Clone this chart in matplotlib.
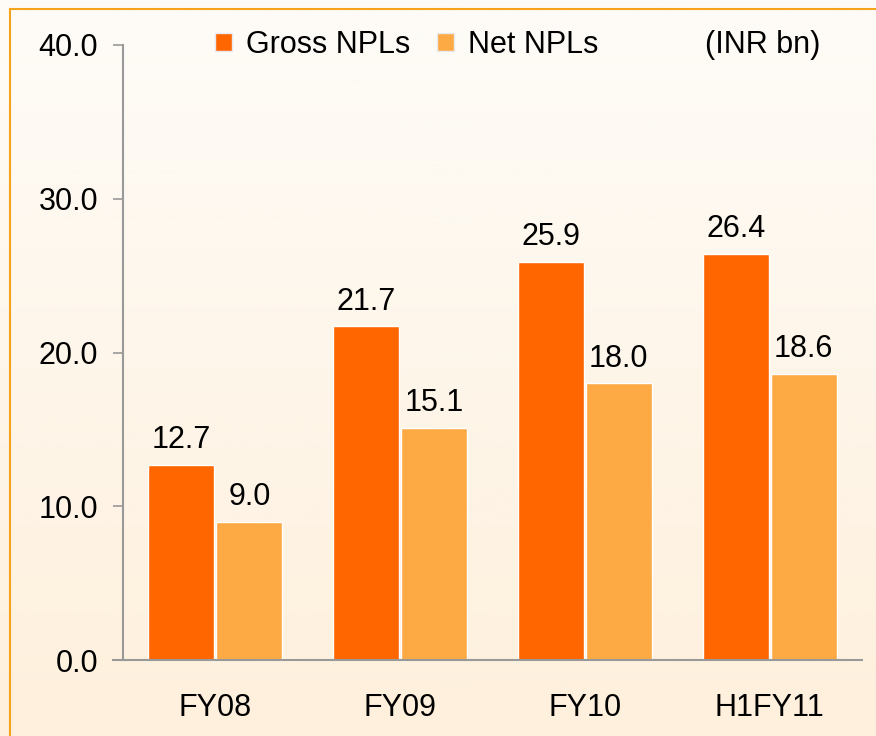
import numpy as np
import matplotlib
matplotlib.use("Agg")
import matplotlib.pyplot as plt
import matplotlib.patches as mpatches
from matplotlib.lines import Line2D

categories = ["FY08", "FY09", "FY10", "H1FY11"]
gross_npls = [12.7, 21.7, 25.9, 26.4]
net_npls = [9.0, 15.1, 18.0, 18.6]
y_ticks = [0, 10, 20, 30, 40]

GROSS_COLOR = "#FF6600"
NET_COLOR = "#FDAA45"
AXIS_COLOR = "#999999"
FS = 22

plt.rcParams["font.family"] = ["Liberation Sans", "DejaVu Sans"]

fig = plt.figure(figsize=(8.76, 7.36), dpi=100)

# background gradient (near white at top -> cream at bottom)
bg = fig.add_axes([0, 0, 1, 1], zorder=-10)
top = np.array([254, 252, 248]) / 255
bottom = np.array([254, 240, 220]) / 255
t = np.linspace(0, 1, 256)[:, None]
grad = top * (1 - t) + bottom * t
bg.imshow(grad[:, None, :], aspect="auto", extent=[0, 1, 0, 1])
bg.axis("off")

# orange frame (left and top edges visible)
fig.add_artist(Line2D([10 / 876, 10 / 876], [0, 1 - 9 / 736],
                      transform=fig.transFigure, color="#F7A21B", lw=1.5))
fig.add_artist(Line2D([10 / 876, 1], [1 - 9 / 736, 1 - 9 / 736],
                      transform=fig.transFigure, color="#F7A21B", lw=1.5))

ax = fig.add_axes([123 / 876, 76 / 736, 739 / 876, 615 / 736])
ax.patch.set_alpha(0)

x = np.arange(len(categories))
w = 0.357
off = 0.184
b1 = ax.bar(x - off, gross_npls, w, color=GROSS_COLOR, edgecolor="white", linewidth=1)
b2 = ax.bar(x + off, net_npls, w, color=NET_COLOR, edgecolor="white", linewidth=1)

for bars, vals in ((b1, gross_npls), (b2, net_npls)):
    for bar, v in zip(bars, vals):
        ax.annotate(f"{v:.1f}", (bar.get_x() + bar.get_width() / 2, v),
                    xytext=(0, 7), textcoords="offset points",
                    ha="center", va="bottom", fontsize=FS)

ax.set_xlim(-0.5, 3.5)
ax.set_ylim(0, 40)
ax.set_yticks(y_ticks)
ax.set_yticklabels([f"{v:.1f}" for v in y_ticks], fontsize=FS)
ax.set_xticks(x)
ax.set_xticklabels(categories, fontsize=FS)
ax.tick_params(axis="x", length=0, pad=24)
ax.tick_params(axis="y", length=7, width=1.2, color=AXIS_COLOR, pad=11, direction="out")

for s in ("top", "right"):
    ax.spines[s].set_visible(False)
for s in ("left", "bottom"):
    ax.spines[s].set_color(AXIS_COLOR)
    ax.spines[s].set_linewidth(1.5)
ax.spines["bottom"].set_bounds(-0.5 - 10 / 185, 3.5)

handles = [mpatches.Patch(facecolor=GROSS_COLOR, edgecolor="#e8e8f0", label="Gross NPLs"),
           mpatches.Patch(facecolor=NET_COLOR, edgecolor="#e8e8f0", label="Net NPLs")]
ax.legend(handles=handles, loc="center", bbox_to_anchor=(0.384, 1.0), ncol=2,
          frameon=False, fontsize=FS, handlelength=0.55, handleheight=0.55,
          handletextpad=0.45, columnspacing=0.9)
ax.text(0.865, 1.0, "(INR bn)", transform=ax.transAxes, ha="center", va="center",
        fontsize=FS)

fig.savefig("out.png", dpi=100)
